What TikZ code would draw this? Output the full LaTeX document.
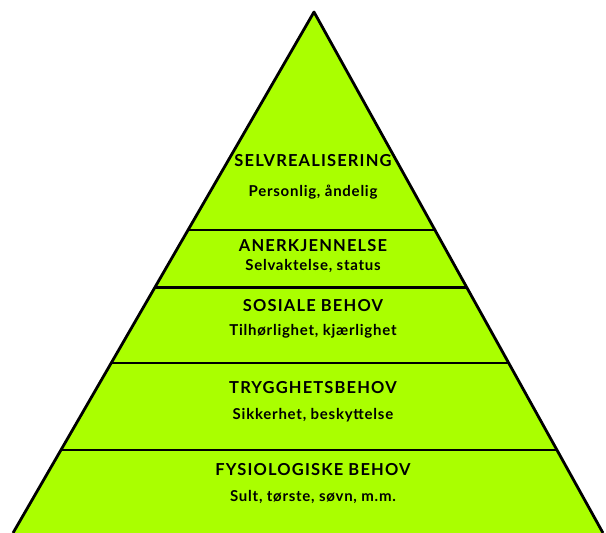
\documentclass[tikz,border=0pt]{standalone}
\usepackage{fontspec}
\setmainfont{Lato}
\newfontfamily\headfont[LetterSpace=7]{Lato Bold}
\newfontfamily\subfont[LetterSpace=5]{Lato Bold}
\usetikzlibrary{calc}
\definecolor{lime}{HTML}{AAFF00}
\tikzset{
  title/.style={font=\headfont\fontsize{16.5}{20}\selectfont},
  sub/.style={font=\subfont\fontsize{15}{18}\selectfont}
}

\begin{document}
\begin{tikzpicture}[x=1pt,y=-1pt]
          \useasboundingbox (0,0) rectangle (606,533);
          \coordinate (apex) at (314,12);
          \coordinate (bl) at (13,533);
          \coordinate (br) at (603,533);
          \fill[lime] (apex) -- (bl) -- (br) -- cycle;
          % band lines
          \foreach \t in {0.4184,0.5288,0.6737,0.8407}
            \draw[line width=2.8pt] ($(apex)!\t!(bl)$) -- ($(apex)!\t!(br)$);
          \draw[line width=2.8pt,line join=round] (bl) -- (apex) -- (br);
          \node[title] at (313,161) (selv) {SELVREALISERING};
          \node[sub] at (313,192) (selvsub) {Personlig, åndelig};
          \node[title] at (313,246) (aner) {ANERKJENNELSE};
          \node[sub] at (313,266) (anersub) {Selvaktelse, status};
          \node[title] at (313,306) (sos) {SOSIALE BEHOV};
          \node[sub] at (313,331) (sossub) {Tilhørlighet, kjærlighet};
          \node[title] at (313,388) (trygg) {TRYGGHETSBEHOV};
          \node[sub] at (313,415) (tryggsub) {Sikkerhet, beskyttelse};
          \node[title] at (313,470) (fys) {FYSIOLOGISKE BEHOV};
          \node[sub] at (313,497) (fyssub) {Sult, tørste, søvn, m.m.};
        \end{tikzpicture}
\end{document}
